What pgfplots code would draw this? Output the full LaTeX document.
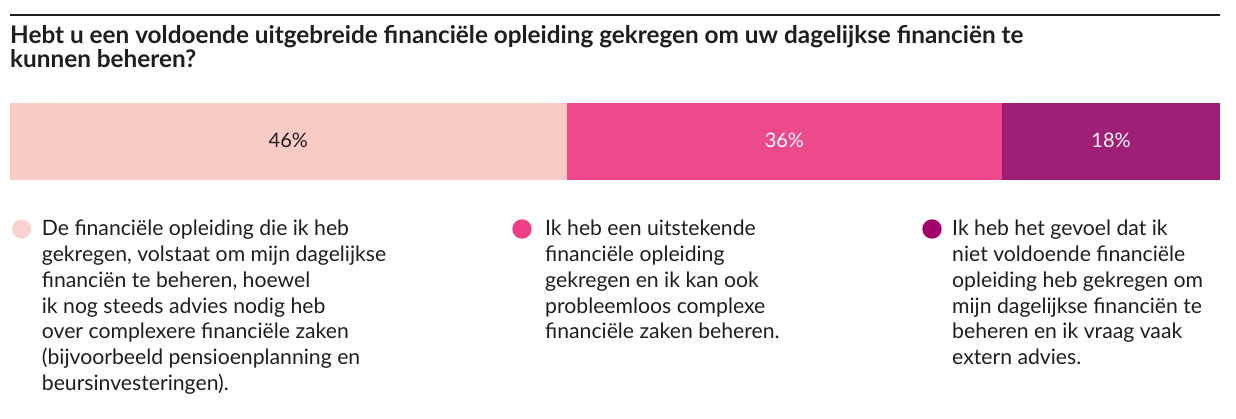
\documentclass[border=0pt]{standalone}
\usepackage{fontspec}
\setmainfont{Lato}
\usepackage{pgfplots}
\pgfplotsset{compat=1.18}

\definecolor{segA}{HTML}{F9CBC5}
\definecolor{segB}{HTML}{EC4A8B}
\definecolor{segC}{HTML}{9E1F75}
\definecolor{dotA}{HTML}{FAD3D0}
\definecolor{dotB}{HTML}{EE3F86}
\definecolor{dotC}{HTML}{A3006B}
\definecolor{ink}{HTML}{1E1E1E}

\begin{document}
\begin{tikzpicture}[x=1pt,y=1pt]
\useasboundingbox (0,0) rectangle (1236,419);

% top rule and title (base anchor = last line)
\draw[ink, line width=1.3pt] (10,404) -- (1220,404);
\node[anchor=base west, inner sep=0pt, align=left, text=ink,
      font=\fontsize{24.3}{24}\selectfont\bfseries] at (10,351.7)
  {Hebt u een voldoende uitgebreide financiële opleiding gekregen om uw dagelijkse financiën te\\
   kunnen beheren?};

\begin{axis}[
    at={(10pt,239pt)}, anchor=south west,
    scale only axis, width=1210pt, height=77pt,
    xmin=0, xmax=100, ymin=0, ymax=1,
    hide axis, clip=false,
    xbar stacked, bar width=1,
]
\addplot[fill=segA, draw=none] coordinates {(46,0.5)};
\addplot[fill=segB, draw=none] coordinates {(36,0.5)};
\addplot[fill=segC, draw=none] coordinates {(18,0.5)};

\coordinate (pA) at (axis cs:23,0.52);
\coordinate (pB) at (axis cs:64,0.52);
\coordinate (pC) at (axis cs:91,0.52);
\end{axis}

\node[text=ink, font=\fontsize{20}{22}\selectfont] at (pA) {46\%};
\node[text=white, font=\fontsize{20}{22}\selectfont] at (pB) {36\%};
\node[text=white, font=\fontsize{20}{22}\selectfont] at (pC) {18\%};

% legend
\fill[dotA] (21.7,190) circle (9.7);
\fill[dotB] (522,190) circle (9.7);
\fill[dotC] (932,190) circle (9.7);

\begin{scope}[every node/.style={anchor=base west, inner sep=0pt, align=left, text=ink,
      font=\fontsize{21.2}{25.7}\selectfont}]
\node at (41.7,28.8) {De financiële opleiding die ik heb\\
  gekregen, volstaat om mijn dagelijkse\\
  financiën te beheren, hoewel\\
  ik nog steeds advies nodig heb\\
  over complexere financiële zaken\\
  (bijvoorbeeld pensioenplanning en\\
  beursinvesteringen).};
\node at (545,80.2) {Ik heb een uitstekende\\
  financiële opleiding\\
  gekregen en ik kan ook\\
  probleemloos complexe\\
  financiële zaken beheren.};
\node at (952,54.5) {Ik heb het gevoel dat ik\\
  niet voldoende financiële\\
  opleiding heb gekregen om\\
  mijn dagelijkse financiën te\\
  beheren en ik vraag vaak\\
  extern advies.};
\end{scope}
\end{tikzpicture}
\end{document}
